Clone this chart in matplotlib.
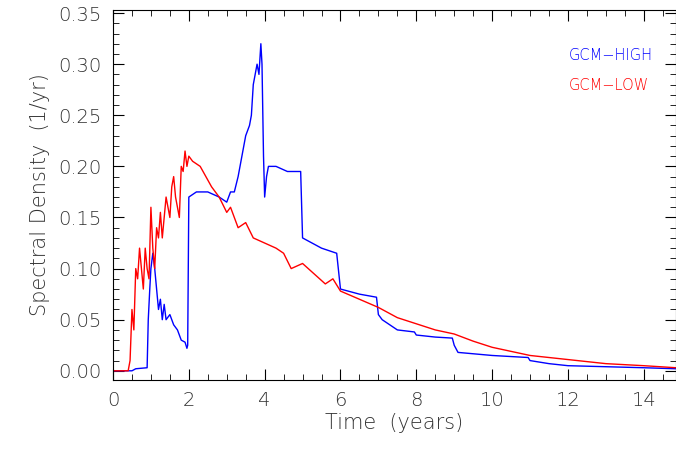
import matplotlib
matplotlib.use("Agg")
import matplotlib.pyplot as plt
from matplotlib.ticker import MultipleLocator

high_t = [0,0.5,0.6,0.9,0.93,0.97,1.0,1.05,1.1,1.15,1.2,1.25,1.3,1.35,1.4,1.5,1.6,1.7,1.8,1.9,1.95,1.97,2.0,2.2,2.5,2.8,3.0,3.1,3.2,3.3,3.4,3.5,3.6,3.65,3.7,3.8,3.85,3.9,3.93,3.97,4.0,4.05,4.1,4.3,4.6,4.95,5.0,5.5,5.9,6.0,6.5,6.95,7.0,7.1,7.5,7.95,8.0,8.5,8.95,9.0,9.1,10.0,10.95,11.0,11.5,12.0,13.0,14.0,14.85]
high_v = [0,0,0.002,0.003,0.05,0.08,0.1,0.115,0.1,0.08,0.06,0.07,0.05,0.065,0.05,0.055,0.045,0.04,0.03,0.028,0.022,0.025,0.17,0.175,0.175,0.17,0.165,0.175,0.175,0.19,0.21,0.23,0.24,0.25,0.28,0.3,0.29,0.32,0.3,0.21,0.17,0.19,0.2,0.2,0.195,0.195,0.13,0.12,0.115,0.08,0.075,0.072,0.055,0.05,0.04,0.038,0.035,0.033,0.032,0.025,0.018,0.015,0.013,0.01,0.007,0.005,0.004,0.003,0.002]
low_t = [0,0.4,0.45,0.5,0.55,0.6,0.65,0.7,0.75,0.8,0.85,0.9,0.95,1.0,1.05,1.1,1.15,1.2,1.25,1.3,1.35,1.4,1.45,1.5,1.55,1.6,1.65,1.7,1.75,1.8,1.85,1.9,1.95,2.0,2.1,2.3,2.6,2.8,3.0,3.1,3.3,3.5,3.7,4.0,4.3,4.5,4.7,5.0,5.3,5.6,5.8,6.0,6.5,7.0,7.5,8.0,8.5,9.0,9.5,10.0,10.5,11.0,12.0,13.0,14.0,14.85]
low_v = [0,0,0.01,0.06,0.04,0.1,0.09,0.12,0.1,0.08,0.12,0.1,0.09,0.16,0.12,0.1,0.14,0.13,0.155,0.13,0.15,0.17,0.16,0.15,0.18,0.19,0.17,0.16,0.15,0.2,0.195,0.215,0.2,0.21,0.205,0.2,0.18,0.17,0.155,0.16,0.14,0.145,0.13,0.125,0.12,0.115,0.1,0.105,0.095,0.085,0.09,0.078,0.07,0.062,0.052,0.046,0.04,0.036,0.029,0.023,0.019,0.015,0.011,0.007,0.005,0.003]

plt.rcParams['font.family'] = 'DejaVu Sans'
fig = plt.figure(figsize=(6.76, 4.49), dpi=100)
ax = fig.add_axes([113/676, 1-380/449, (676-113)/676, 370/449])
ax.plot(high_t, high_v, color='blue', lw=1)
ax.plot(low_t, low_v, color='red', lw=1)
ax.set_xlim(0, 14.85)
ax.set_ylim(-0.009, 0.353)
ax.xaxis.set_major_locator(MultipleLocator(2))
ax.xaxis.set_minor_locator(MultipleLocator(0.5))
ax.yaxis.set_major_locator(MultipleLocator(0.05))
ax.yaxis.set_minor_locator(MultipleLocator(0.01))
ax.yaxis.set_major_formatter(plt.FormatStrFormatter('%.2f'))
ax.tick_params(which='both', direction='in', top=True, right=True, labelsize=14, pad=8, labelcolor='#333333')
ax.tick_params(which='major', length=8)
ax.tick_params(which='minor', length=4)
for lab in ax.get_xticklabels() + ax.get_yticklabels():
    lab.set_fontweight('light')
ax.set_xlabel('Time  (years)', fontsize=15, labelpad=2, fontweight='light', color='#333333')
ax.set_ylabel('Spectral Density  (1/yr)', fontsize=15, labelpad=6, fontweight='light', color='#333333')
ax.text(0.81, 0.865, 'GCM\u2212HIGH', color='blue', transform=ax.transAxes, fontsize=10.5, fontweight='light')
ax.text(0.81, 0.785, 'GCM\u2212LOW', color='red', transform=ax.transAxes, fontsize=10.5, fontweight='light')
fig.savefig('out.png', dpi=100)
